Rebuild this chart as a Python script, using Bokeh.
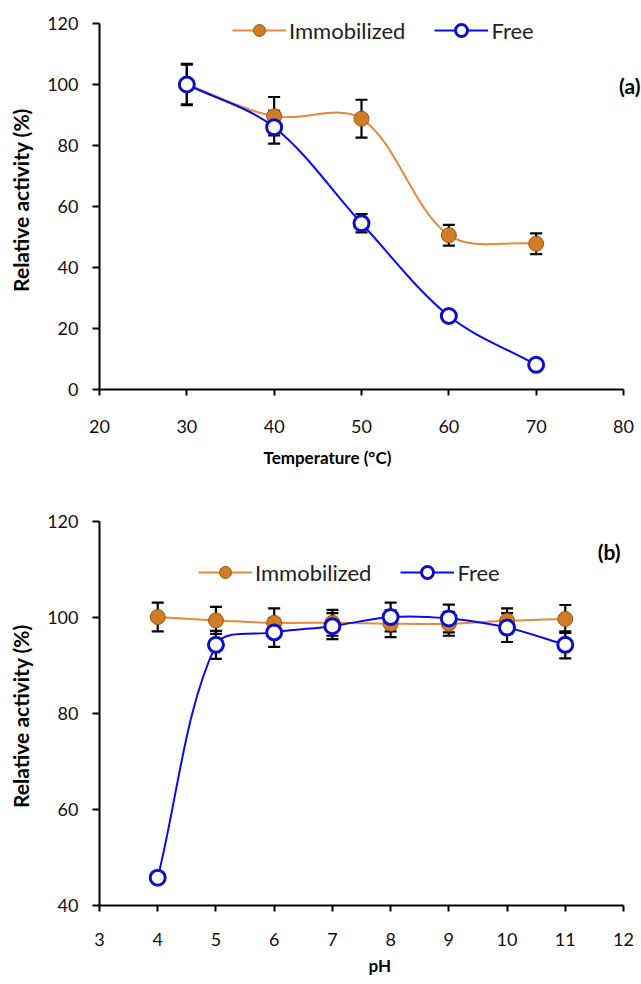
from bokeh.plotting import figure
from bokeh.models import (ColumnDataSource, Whisker, Label, Legend, LegendItem, Range1d,
                          FixedTicker, Title)
from bokeh.layouts import column
from bokeh.embed import file_html
from bokeh.resources import INLINE

# ---- data: panel (a) temperature ----
temp = [30, 40, 50, 60, 70]
temp_immob = [100.0, 89.6, 88.8, 50.6, 47.8]
temp_immob_err = [6.8, 6.3, 6.2, 3.4, 3.4]
temp_free = [100.0, 86.0, 54.5, 24.1, 8.1]
temp_free_err = [6.5, 5.4, 3.0, 0.0, 0.0]
temp_ticks = [20, 30, 40, 50, 60, 70, 80]
temp_yticks = [0, 20, 40, 60, 80, 100, 120]

# ---- data: panel (b) pH ----
ph = [4, 5, 6, 7, 8, 9, 10, 11]
ph_immob = [100.1, 99.4, 98.9, 98.9, 98.7, 98.7, 99.3, 99.7]
ph_immob_err = [3.0, 2.8, 3.0, 2.7, 2.8, 2.5, 2.6, 2.9]
ph_free = [45.8, 94.3, 96.9, 98.2, 100.1, 99.8, 97.9, 94.3]
ph_free_err = [0.0, 2.9, 3.0, 2.7, 3.0, 2.9, 3.0, 2.8]
ph_ticks = [3, 4, 5, 6, 7, 8, 9, 10, 11, 12]
ph_yticks = [40, 60, 80, 100, 120]

ORANGE_LINE = "#E08B3E"
ORANGE_FILL = "#D27C26"
ORANGE_EDGE = "#9C5716"
BLUE_LINE = "#0A0AF0"
BLUE_EDGE = "#0E0EC4"
FONT = "Lato"

W = 641
FRAME_L = 99          # left border
AXIS_PX = 524         # pixel length of the drawn x axis
EXTRA_R = 18          # frame continues past the x axis end


def smooth_segments(xs, ys, sx, sy):
    """Excel-like smoothed curve: Bezier segments with chord-weighted tangents."""
    n = len(xs)
    px = [x * sx for x in xs]
    py = [y * sy for y in ys]

    def dist(i, j):
        return ((px[i] - px[j]) ** 2 + (py[i] - py[j]) ** 2) ** 0.5

    after, before = [], []
    for i in range(n):
        a = max(i - 1, 0)
        b = min(i + 1, n - 1)
        tx, ty = xs[b] - xs[a], ys[b] - ys[a]
        d0 = dist(a, i)
        d1 = dist(i, b)
        tot = d0 + d1 if d0 + d1 > 0 else 1.0
        after.append((xs[i] + tx * d1 / tot / 3.0, ys[i] + ty * d1 / tot / 3.0))
        before.append((xs[i] - tx * d0 / tot / 3.0, ys[i] - ty * d0 / tot / 3.0))
    d = dict(x0=xs[:-1], y0=ys[:-1], x1=xs[1:], y1=ys[1:],
             cx0=[after[i][0] for i in range(n - 1)],
             cy0=[after[i][1] for i in range(n - 1)],
             cx1=[before[i + 1][0] for i in range(n - 1)],
             cy1=[before[i + 1][1] for i in range(n - 1)])
    return ColumnDataSource(d)


def panel(xs, immob, immob_err, free, free_err, xticks, yticks, xr, yr,
          xlabel, ylabel, tag, height, border_top, extra_top, border_bottom,
          legend_loc, tag_pos, tick_standoff, title_offset, title_standoff):
    frame_h = height - border_top - border_bottom
    axis_h = frame_h - extra_top
    x_end = xr[1] + EXTRA_R * (xr[1] - xr[0]) / AXIS_PX
    y_end = yr[1] + extra_top * (yr[1] - yr[0]) / axis_h
    p = figure(width=W, height=height, output_backend="svg", toolbar_location=None,
               x_range=Range1d(xr[0], x_end), y_range=Range1d(yr[0], y_end),
               min_border_left=FRAME_L, min_border_right=0,
               min_border_top=border_top, min_border_bottom=border_bottom)
    p.outline_line_color = None
    p.grid.visible = False
    p.background_fill_color = "white"

    for ax in (p.xaxis[0], p.yaxis[0]):
        ax.axis_line_width = 2
        ax.axis_line_color = "black"
        ax.major_tick_line_width = 2
        ax.major_tick_line_color = "black"
        ax.major_tick_in = 0
        ax.minor_tick_line_color = None
        ax.major_label_text_font = FONT
        ax.major_label_text_font_size = "18px"
        ax.major_label_text_color = "#111111"
        ax.axis_label_text_font = FONT
        ax.axis_label_text_font_style = "bold"
        ax.axis_label_text_color = "black"

    xa = p.xaxis[0]
    xa.bounds = xr
    xa.ticker = FixedTicker(ticks=xticks)
    xa.major_tick_out = 6
    xa.major_label_standoff = tick_standoff
    xa.axis_label = None

    ya = p.yaxis[0]
    ya.bounds = yr
    ya.ticker = FixedTicker(ticks=yticks)
    ya.major_tick_out = 7
    ya.major_label_standoff = 14
    ya.axis_label = ylabel
    ya.axis_label_text_font_size = "21px"
    ya.axis_label_standoff = 11

    # x axis title, placed like the reference (not centred on the axis)
    p.add_layout(Title(text=xlabel, align="left", offset=title_offset,
                       standoff=title_standoff, text_font=FONT, text_font_style="bold",
                       text_font_size="17px", text_color="black"), "below")

    # error bars (behind markers)
    src_i = ColumnDataSource(dict(x=xs, y=immob,
                                  lo=[v - e for v, e in zip(immob, immob_err)],
                                  hi=[v + e for v, e in zip(immob, immob_err)]))
    src_f = ColumnDataSource(dict(x=xs, y=free,
                                  lo=[v - e for v, e in zip(free, free_err)],
                                  hi=[v + e for v, e in zip(free, free_err)]))
    for src in (src_i, src_f):
        w = Whisker(base="x", upper="hi", lower="lo", source=src,
                    line_color="black", line_width=2.2, level="underlay")
        for hd in (w.upper_head, w.lower_head):
            hd.size = 12
            hd.line_width = 2.2
            hd.line_color = "black"
        p.add_layout(w)

    sx = AXIS_PX / (xr[1] - xr[0])
    sy = axis_h / (yr[1] - yr[0])
    p.bezier(x0="x0", y0="y0", x1="x1", y1="y1", cx0="cx0", cy0="cy0", cx1="cx1", cy1="cy1",
             source=smooth_segments(xs, immob, sx, sy), line_color=ORANGE_LINE, line_width=2)
    p.bezier(x0="x0", y0="y0", x1="x1", y1="y1", cx0="cx0", cy0="cy0", cx1="cx1", cy1="cy1",
             source=smooth_segments(xs, free, sx, sy), line_color=BLUE_LINE, line_width=2)

    mi = p.scatter("x", "y", source=src_i, size=15, fill_color=ORANGE_FILL,
                   line_color=ORANGE_EDGE, line_width=1)
    mf = p.scatter("x", "y", source=src_f, size=15, fill_color="white",
                   line_color=BLUE_EDGE, line_width=3)

    # single-point lines: draw nothing on the plot, but give the legend its line
    li = p.line(x=xs[:1], y=immob[:1], line_color=ORANGE_LINE, line_width=2)
    lf = p.line(x=xs[:1], y=free[:1], line_color=BLUE_LINE, line_width=2)
    leg = Legend(items=[LegendItem(label="Immobilized", renderers=[li, mi]),
                        LegendItem(label="Free", renderers=[lf, mf])],
                 orientation="horizontal", location=legend_loc,
                 background_fill_alpha=0, border_line_color=None,
                 label_text_font=FONT, label_text_font_size="22px",
                 label_text_color="#222222",
                 glyph_width=54, glyph_height=30, label_standoff=3,
                 spacing=29, padding=0, margin=0)
    p.add_layout(leg, "center")

    p.add_layout(Label(x=tag_pos[0], y=tag_pos[1], x_units="screen", y_units="screen",
                       text=tag, text_font=FONT, text_font_style="bold",
                       text_font_size="21px", text_align="right",
                       text_baseline="middle", text_color="black"))
    return p


p1 = panel(temp, temp_immob, temp_immob_err, temp_free, temp_free_err,
           temp_ticks, temp_yticks, (20, 80), (0, 120),
           "Temperature (°C)", "Relative activity (%)", "(a)",
           height=480, border_top=10, extra_top=13, border_bottom=91,
           legend_loc=(133, 344), tag_pos=(541, 304),
           tick_standoff=24, title_offset=164, title_standoff=18)

p2 = panel(ph, ph_immob, ph_immob_err, ph_free, ph_free_err,
           ph_ticks, ph_yticks, (3, 12), (40, 120),
           "pH", "Relative  activity (%)", "(b)",
           height=504, border_top=41, extra_top=0, border_bottom=79,
           legend_loc=(99, 318), tag_pos=(521, 354),
           tick_standoff=21, title_offset=269, title_standoff=9)

layout = column(p1, p2, spacing=0)
open("out.html", "w").write(file_html(layout, INLINE))
